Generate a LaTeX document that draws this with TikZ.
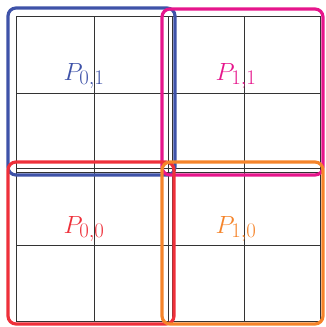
\documentclass[tikz,border=0pt]{standalone}
\usepackage{amsmath,amssymb}
\usepackage{xcolor}
\usetikzlibrary{positioning}

\definecolor{patchblue}{RGB}{62,82,168}
\definecolor{patchpink}{RGB}{230,22,140}
\definecolor{patchred}{RGB}{238,48,58}
\definecolor{patchorange}{RGB}{245,132,42}

\tikzset{
  cellgrid/.style={line width=1pt,black!80},
  patchbox/.style={line width=3.2pt,rounded corners=8pt},
  patchlabel/.style={font=\fontsize{31}{33}\selectfont,inner sep=0pt}
}

\begin{document}
\begin{tikzpicture}[x=1pt,y=-1pt]
  \useasboundingbox (0,0) rectangle (325,327);
  % the four 2x2 patches of cells
  \draw[cellgrid] (16,16) rectangle (172,172) (94,16) -- (94,172) (16,93) -- (172,93);
  \draw[cellgrid] (168,16) rectangle (320,172) (244,16) -- (244,172) (168,93) -- (320,93);
  \draw[cellgrid] (16,168) rectangle (172,321) (94,168) -- (94,321) (16,245) -- (172,245);
  \draw[cellgrid] (168,168) rectangle (320,321) (244,168) -- (244,321) (168,245) -- (320,245);
  % outlines
  \draw[patchbox,patchblue] (8,8) rectangle (175,175);
  \draw[patchbox,patchpink] (162,9) rectangle (323,175);
  \draw[patchbox,patchred] (8,162) rectangle (174,324);
  \draw[patchbox,patchorange] (162,162) rectangle (323,324);
  \node[patchlabel,text=patchblue] (p01) at (84,76) {$P_{0,1}$};
  \node[patchlabel,text=patchpink] (p11) at (236,76) {$P_{1,1}$};
  \node[patchlabel,text=patchred] (p00) at (84,229) {$P_{0,0}$};
  \node[patchlabel,text=patchorange] (p10) at (236,229) {$P_{1,0}$};
\end{tikzpicture}
\end{document}
